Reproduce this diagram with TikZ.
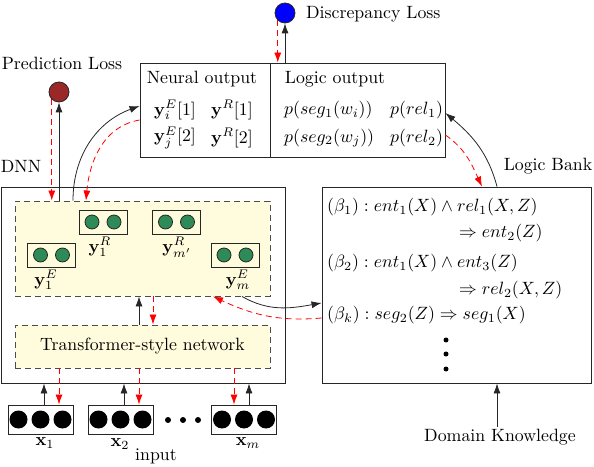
\documentclass[tikz,border=0pt]{standalone}
\usepackage{amsmath, amssymb}
\usepackage{tikz}
\usetikzlibrary{arrows.meta}
\definecolor{paleyellow}{RGB}{255,252,222}
\definecolor{lossred}{RGB}{155,40,40}
\definecolor{dotgreen}{RGB}{46,139,87}

\begin{document}
\begin{tikzpicture}[x=1pt, y=1pt,
  txt/.style={scale=1.78, inner sep=1pt},
  box/.style={draw=black!85, line width=0.9pt, inner sep=0pt},
  dashbox/.style={draw=black!70, line width=0.9pt, dash pattern=on 6pt off 4pt, fill=paleyellow, inner sep=0pt},
  cell/.style={box, minimum width=48pt, minimum height=24pt},
  inbox/.style={box, minimum width=65pt, minimum height=29pt},
  loss/.style={circle, draw=black!85, line width=0.8pt, minimum size=20pt, inner sep=0pt},
  fwd/.style={-{Latex[length=10pt,width=7pt]}, line width=0.8pt, black!85},
  bwd/.style={-{Latex[length=10pt,width=7pt]}, line width=0.8pt, red, dash pattern=on 6pt off 4pt}]
\useasboundingbox (0,0) rectangle (594,466);

% Losses
\node[loss, fill=blue] (disc) at (285,453) {};
\node[txt, right] (disclab) at (304,452) {Discrepancy Loss};
\node[txt] (predlab) at (62,403) {Prediction Loss};
\node[loss, fill=lossred] (pred) at (59,374) {};

% Output box
\node[box, minimum width=305pt, minimum height=94pt] (out) at (292.5,356) {};
\draw[black!85, line width=0.9pt] (270,0 |- out.north) -- (270,0 |- out.south);
\node[txt] (neural) at (202,387) {Neural output};
\node[txt] (ne1) at (175,356) {$\mathbf{y}_i^E[1]$};
\node[txt] (nr1) at (232,356) {$\mathbf{y}^R[1]$};
\node[txt] (ne2) at (175,328) {$\mathbf{y}_j^E[2]$};
\node[txt] (nr2) at (232,328) {$\mathbf{y}^R[2]$};
\node[txt] (logic) at (335,387) {Logic output};
\node[txt, right] (ls1) at (282,356) {$p(seg_1(w_i))$};
\node[txt, right] (lr1) at (388,356) {$p(rel_1)$};
\node[txt, right] (ls2) at (282,328) {$p(seg_2(w_j))$};
\node[txt, right] (lr2) at (388,328) {$p(rel_2)$};

% DNN
\node[txt] (dnnlab) at (21,300) {DNN};
\node[box, minimum width=284pt, minimum height=196pt] (dnn) at (143,181) {};
\node[dashbox, minimum width=255pt, minimum height=95pt] (top) at (142.5,217.5) {};
\node[dashbox, minimum width=255pt, minimum height=43pt] (trans) at (142.5,119.5) {};
\node[txt] (translab) at (trans.center) {Transformer-style network};

% Entity and relation cells
\node[cell] (yE1) at (51.5,211) {};
\node[cell] (yR1) at (103,244) {};
\node[cell] (yRm) at (176.5,244) {};
\node[cell] (yEm) at (235,211) {};
\foreach \c in {yE1,yR1,yRm,yEm}
  \filldraw[fill=dotgreen, draw=black!85, line width=0.8pt]
    ([xshift=-11pt]\c.center) circle (7pt) ([xshift=11pt]\c.center) circle (7pt);
\node[txt, below] (yE1lab) at (46,198) {$\mathbf{y}_1^E$};
\node[txt, below] (yR1lab) at (100,231) {$\mathbf{y}_1^R$};
\node[txt, below] (yRmlab) at (177,231) {$\mathbf{y}_{m'}^R$};
\node[txt, below] (yEmlab) at (238,198) {$\mathbf{y}_m^E$};

% Inputs
\node[inbox] (in1) at (40.5,46.5) {};
\node[inbox] (in2) at (120.5,46.5) {};
\node[inbox] (in3) at (244,46.5) {};
\foreach \c in {in1,in2,in3}
  \foreach \d in {-22,0,22}
    \fill ([xshift=\d pt]\c.center) circle (9pt);
\fill (168,46) circle (3pt) (183,46) circle (3pt) (198,46) circle (3pt);
\node[txt] (x1lab) at (45,23) {$\mathbf{x}_1$};
\node[txt] (x2lab) at (120,22) {$\mathbf{x}_2$};
\node[txt] (xmlab) at (248,23) {$\mathbf{x}_m$};
\node[txt] (inlab) at (156,10) {input};

% Logic bank
\node[box, minimum width=269pt, minimum height=196pt] (bank) at (456.5,181) {};
\node[txt] (banklab) at (548,300) {Logic Bank};
\node[txt, right] (r1) at (325,259) {$(\beta_1) : ent_1(X) \wedge rel_1(X,Z)$};
\node[txt, right] (r1b) at (457,233) {$\Rightarrow ent_2(Z)$};
\node[txt, right] (r2) at (325,203) {$(\beta_2) : ent_1(X) \wedge ent_3(Z)$};
\node[txt, right] (r2b) at (457,176) {$\Rightarrow rel_2(X,Z)$};
\node[txt, right] (rk) at (325,151) {$(\beta_k) : seg_2(Z) \Rightarrow seg_1(X)$};
\fill (446,126) circle (2.5pt) (446,112) circle (2.5pt) (446,97) circle (2.5pt);
\node[txt] (dk) at (500,29) {Domain Knowledge};

% Forward connectors
\draw[fwd] (pred.south |- top.north) -- (pred.south);
\draw[fwd] (disc.south |- out.north) -- (disc.south);
\draw[fwd] ([xshift=-3.5pt]trans.north) -- ([xshift=-3.5pt]trans.north |- top.south);
\draw[fwd] ([xshift=3.5pt]in1.north) -- ([xshift=3.5pt]in1.north |- dnn.south);
\draw[fwd] ([xshift=3.5pt]in2.north) -- ([xshift=3.5pt]in2.north |- dnn.south);
\draw[fwd] ([xshift=5pt]in3.north) -- ([xshift=5pt]in3.north |- dnn.south);
\draw[fwd] ([xshift=-3pt]dk.north) -- ([xshift=-3pt]dk.north |- bank.south);
\draw[fwd] ([xshift=-69.5pt]top.north) to[out=90, in=200] ([yshift=4pt]out.west);
\draw[fwd] ([xshift=40.5pt]bank.north) to[out=105, in=-40] ([yshift=-3pt]out.east);
\draw[fwd] ([xshift=99.5pt]top.south) to[out=-30, in=190] ([yshift=-18pt]bank.west);

% Backward connectors
\draw[bwd] (pred.226) -- (pred.226 |- top.north);
\draw[bwd] (disc.226) -- (disc.226 |- out.north);
\draw[bwd] ([xshift=10.5pt]trans.north |- top.south) -- ([xshift=10.5pt]trans.north);
\draw[bwd] ([xshift=18.5pt]in1.north |- trans.south) -- ([xshift=18.5pt]in1.north);
\draw[bwd] ([xshift=18.5pt]in2.north |- trans.south) -- ([xshift=18.5pt]in2.north);
\draw[bwd] ([xshift=-10pt]in3.north |- trans.south) -- ([xshift=-10pt]in3.north);
\draw[bwd] ([yshift=-10pt]out.west) to[out=190, in=85] ([xshift=-56.5pt]top.north);
\draw[bwd] ([yshift=-25pt]out.east) to[out=-35, in=115] ([xshift=25.5pt]bank.north);
\draw[bwd] ([yshift=-33pt]bank.west) to[out=185, in=-25] ([xshift=70.5pt]top.south);
\end{tikzpicture}
\end{document}
